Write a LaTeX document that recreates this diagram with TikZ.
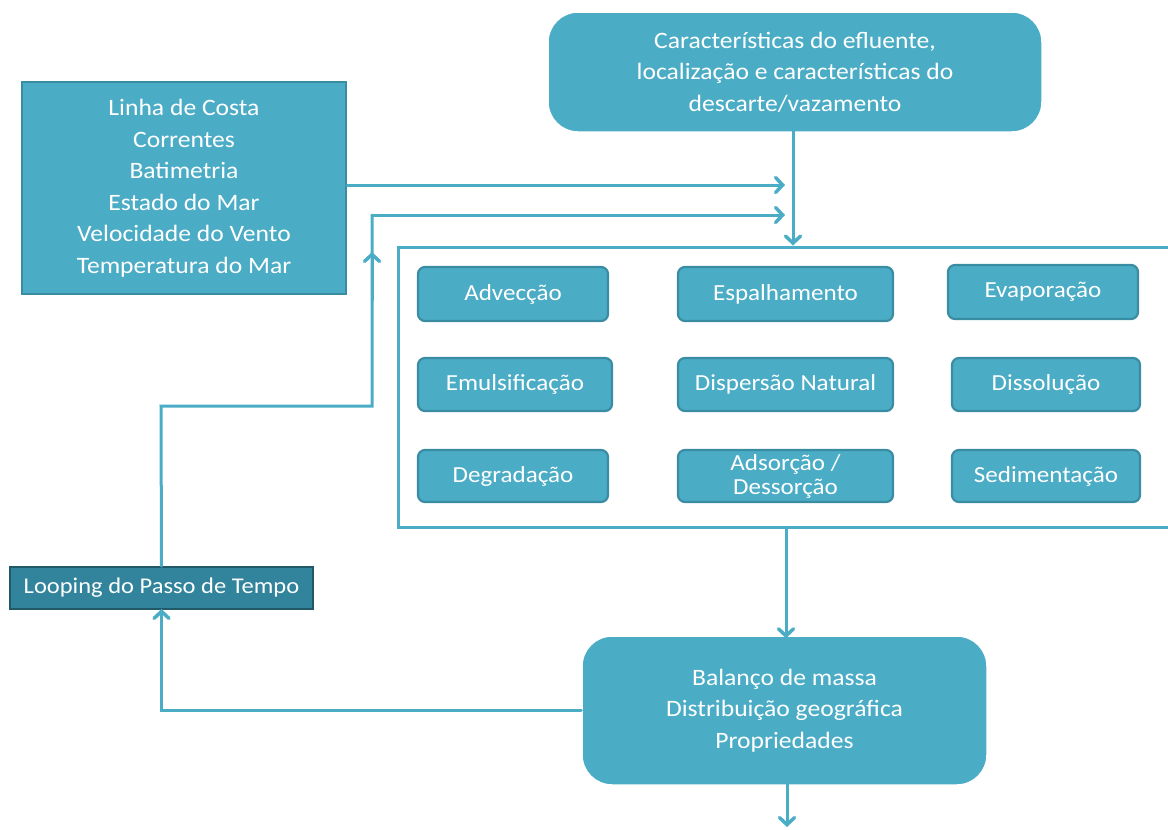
\documentclass[tikz,border=0pt]{standalone}
\usepackage{fontspec}
\setmainfont{Carlito}[FakeStretch=1.09]
\usetikzlibrary{arrows.meta}
\definecolor{aqua}{HTML}{4BACC6}
\definecolor{aquaedge}{HTML}{3A8CA3}
\definecolor{aquadark}{HTML}{31849B}
\definecolor{aquadeep}{HTML}{215968}
\begin{document}
\begin{tikzpicture}[x=1pt,y=-1pt,
  txt/.style={text=white,font=\fontsize{23.5}{31.5}\selectfont,align=center,inner sep=0pt},
  bigbox/.style={txt,fill=aqua,draw=white,line width=1.5pt,rounded corners=30pt},
  inbox/.style={txt,fill=aqua,draw=aquaedge,line width=2.2pt,rounded corners=7pt,font=\fontsize{23}{26}\selectfont},
  sqbox/.style={txt,fill=aqua,draw=aquaedge,line width=2pt},
  loopbox/.style={txt,fill=aquadark,draw=aquadeep,line width=2pt,font=\fontsize{22.5}{26}\selectfont},
  frame/.style={draw=aqua,line width=3pt},
  arr/.style={draw=aqua,line width=3pt,line cap=round,-{Straight Barb[length=7pt,width=15pt,line cap=round,line width=3.5pt]}}
]
\useasboundingbox (0,0) rectangle (1168,830);

\node[bigbox,minimum width=494pt,minimum height=120pt] (top) at (795,72)
  {Características do efluente,\\localização e características do\\descarte/vazamento};
\node[sqbox,minimum width=324pt,minimum height=212pt] (env) at (184,188)
  {Linha de Costa\\Correntes\\Batimetria\\Estado do Mar\\Velocidade do Vento\\Temperatura do Mar};

\node[frame,minimum width=780pt,minimum height=280pt,inner sep=0pt] (proc) at (788,387) {};

\node[inbox,minimum width=190pt,minimum height=54pt] (adv) at (513,294) {Advecção};
\node[inbox,minimum width=215pt,minimum height=54pt] (esp) at (785.5,294) {Espalhamento};
\node[inbox,minimum width=190pt,minimum height=54pt] (eva) at (1043,292) {Evaporação};
\node[inbox,minimum width=194pt,minimum height=53pt] (emu) at (515,384.5) {Emulsificação};
\node[inbox,minimum width=215pt,minimum height=53pt] (dis) at (785.5,384.5) {Dispersão Natural};
\node[inbox,minimum width=188pt,minimum height=53pt] (dsl) at (1046,384.5) {Dissolução};
\node[inbox,minimum width=190pt,minimum height=52pt] (deg) at (513,476) {Degradação};
\node[inbox,minimum width=215pt,minimum height=52pt,font=\fontsize{23}{24}\selectfont] (ads) at (785.5,476) {Adsorção /\\Dessorção};
\node[inbox,minimum width=188pt,minimum height=52pt] (sed) at (1046,476) {Sedimentação};

\node[bigbox,minimum width=405pt,minimum height=149pt] (bal) at (784.5,710.5)
  {Balanço de massa\\Distribuição geográfica\\Propriedades};
\node[loopbox,minimum width=303pt,minimum height=42pt] (loop) at (161.5,588) {Looping do Passo de Tempo};

\coordinate (j1) at (785,185);
\coordinate (j2) at (785,215);
\coordinate (k1) at (161,406);
\coordinate (k2) at (372,406);
\coordinate (k3) at (372,215);
\coordinate (out) at (787,827);

\draw[arr] (env.east |- j1) -- (j1);
\draw[draw=aqua,line width=3pt,line cap=round] (loop.north) -- (k1) -- (k2) -- (k3);
\draw[arr] (k3) -- (j2);
\draw[arr] (372,300) -- (372,252);
\draw[arr] ([yshift=4pt]top.south -| 793,0) -- (proc.north -| 793,0);
\draw[arr] (proc.south -| 786,0) -- ([yshift=-3pt]bal.north -| 786,0);
\draw[arr] ([yshift=2pt]bal.south -| out) -- (out);
\draw[arr] (bal.west) -| ([yshift=1pt]loop.south);
\end{tikzpicture}
\end{document}
